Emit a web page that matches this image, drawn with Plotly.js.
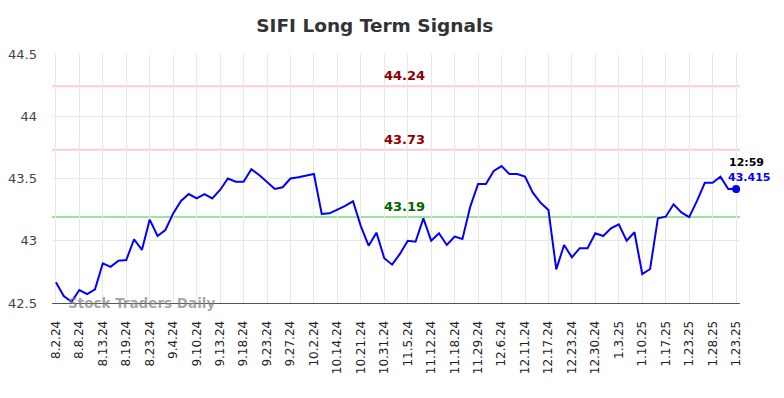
<!DOCTYPE html>
<html>
<head>
<meta charset="utf-8">
<script src="https://cdn.plot.ly/plotly-3.0.1.min.js"></script>
<style>body{margin:0;padding:0;background:#fff;}#chart{width:784px;height:398px;}</style>
</head>
<body>
<div id="chart"></div>
<script>
const prices = [42.666,42.556,42.51,42.604,42.572,42.61,42.819,42.79,42.84,42.845,
43.012,42.926,43.17,43.038,43.086,43.22,43.32,43.375,43.34,43.375,
43.34,43.408,43.50,43.474,43.474,43.574,43.528,43.474,43.416,43.43,
43.50,43.51,43.52,43.536,43.215,43.22,43.25,43.28,43.317,43.118,
42.96,43.065,42.86,42.808,42.894,43.0,42.992,43.18,43.0,43.06,
42.966,43.033,43.014,43.274,43.456,43.456,43.56,43.60,43.536,43.536,
43.515,43.386,43.305,43.247,42.77,42.966,42.867,42.94,42.94,43.06,
43.038,43.10,43.132,43.0,43.068,42.733,42.773,43.18,43.193,43.293,
43.228,43.19,43.32,43.466,43.466,43.515,43.416,43.415];
const tickLabels = ["8.2.24","8.8.24","8.13.24","8.19.24","8.23.24","9.4.24","9.10.24","9.13.24","9.18.24","9.23.24",
"9.27.24","10.2.24","10.14.24","10.21.24","10.31.24","11.5.24","11.12.24","11.18.24","11.29.24","12.6.24",
"12.11.24","12.17.24","12.23.24","12.30.24","1.3.25","1.10.25","1.17.25","1.23.25","1.28.25","1.23.25"];
const levels = [44.24, 43.73, 43.19];
const levelLineColors = ["#ffcccc","#ffcccc","#99e699"];
const levelTextColors = ["#8b0000","#8b0000","#006400"];
const lastTime = "12:59";
const lastValue = 43.415;

const xIdx = prices.map((_, i) => i);
const tickVals = tickLabels.map((_, i) => i * 3);
const n = prices.length;

const shapes = levels.map((v, k) => ({
  type: 'line', xref: 'paper', x0: 0, x1: 1, yref: 'y', y0: v, y1: v,
  line: {color: levelLineColors[k], width: 2}, layer: 'below'
}));

const annotations = levels.map((v, k) => ({
  x: 44.6, y: v, xref: 'x', yref: 'y', text: '<b>' + v.toFixed(2) + '</b>',
  showarrow: false, yanchor: 'bottom', yshift: 1,
  font: {family: 'DejaVu Sans', size: 13, color: levelTextColors[k]}
}));
annotations.push({
  x: n - 1, y: lastValue, xref: 'x', yref: 'y', text: '<b>' + lastTime + '</b>',
  showarrow: false, xanchor: 'center', yanchor: 'bottom', xshift: 10, yshift: 18,
  font: {family: 'DejaVu Sans', size: 11, color: '#000'}
});
annotations.push({
  x: n - 1, y: lastValue, xref: 'x', yref: 'y', text: '<b>' + lastValue + '</b>',
  showarrow: false, xanchor: 'center', yanchor: 'bottom', xshift: 13, yshift: 3,
  font: {family: 'DejaVu Sans', size: 11, color: '#0000ff'}
});
annotations.push({
  x: 0.02, y: 42.5, xref: 'paper', yref: 'y', text: '<b>Stock Traders Daily</b>',
  showarrow: false, xanchor: 'left', yanchor: 'middle',
  font: {family: 'DejaVu Sans', size: 13.5, color: 'rgba(128,128,128,0.7)'}
});

const traces = [
  {x: xIdx, y: prices, type: 'scatter', mode: 'lines',
   line: {color: '#0000ff', width: 2}, hoverinfo: 'skip'},
  {x: [n - 1], y: [lastValue], type: 'scatter', mode: 'markers',
   marker: {color: '#0000ff', size: 8}, hoverinfo: 'skip'}
];

const layout = {
  width: 784, height: 398,
  margin: {l: 52, r: 44, t: 54, b: 95},
  paper_bgcolor: '#fff', plot_bgcolor: '#fff',
  showlegend: false,
  title: {text: '<b>SIFI Long Term Signals</b>', x: 0.478, xref: 'container', xanchor: 'center',
          y: 0.935, yref: 'container', yanchor: 'middle',
          font: {family: 'DejaVu Sans', size: 18.5, color: '#333'}},
  xaxis: {range: [-0.5, n - 0.5], tickvals: tickVals, ticktext: tickLabels, tickangle: -90,
          showgrid: true, gridcolor: '#e8e8e8', gridwidth: 1, zeroline: false,
          showline: true, linecolor: '#555', linewidth: 1, ticks: '',
          ticklabelstandoff: 12,
          tickfont: {family: 'DejaVu Sans', size: 12, color: '#222'}},
  yaxis: {range: [42.5, 44.5], tickvals: [42.5, 43, 43.5, 44, 44.5], ticktext: ['42.5','43','43.5','44','44.5'],
          showgrid: true, gridcolor: '#e8e8e8', gridwidth: 1, zeroline: false, showline: false, ticks: '',
          ticklabelstandoff: 14,
          tickfont: {family: 'DejaVu Sans', size: 13, color: '#444'}},
  shapes: shapes,
  annotations: annotations
};

Plotly.newPlot('chart', traces, layout, {displayModeBar: false, staticPlot: true});
</script>
</body>
</html>
